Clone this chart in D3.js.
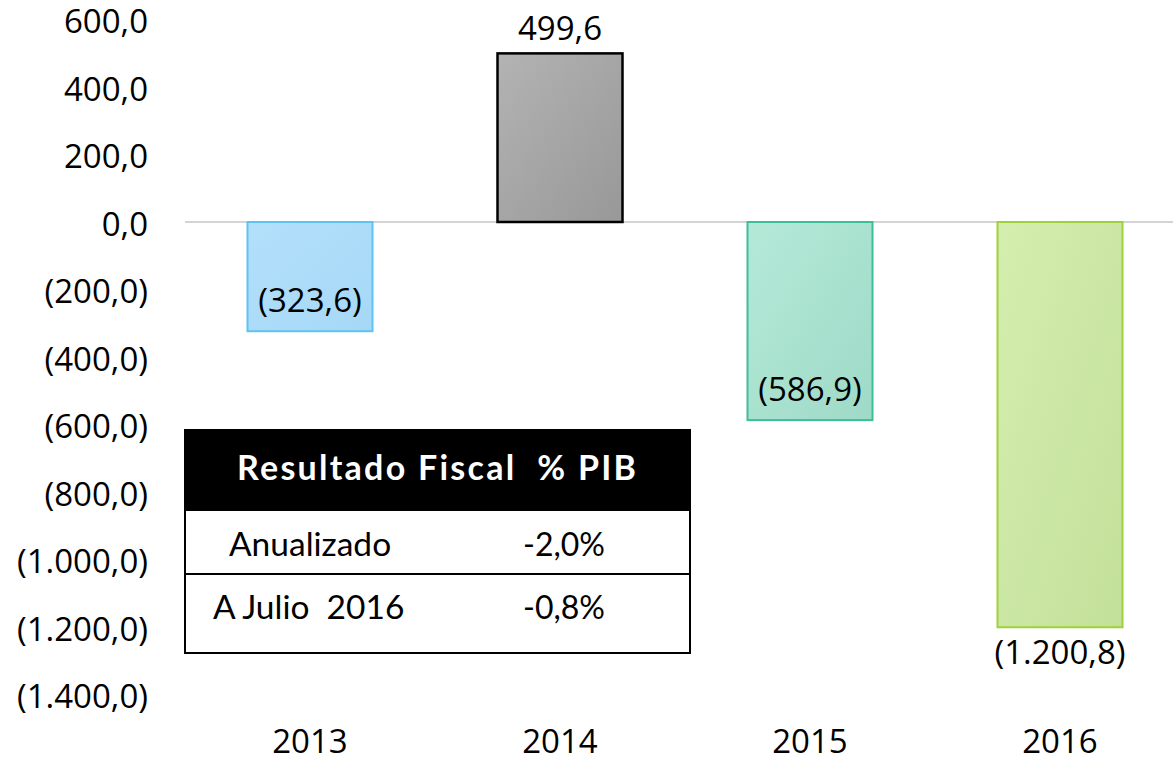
<!DOCTYPE html>
<html>
<head>
<meta charset="utf-8">
<script src="https://d3js.org/d3.v7.min.js"></script>
<style>
  body { margin: 0; background: #fff; }
  svg { display: block; }
  .tick-label { font-family: "Open Sans", sans-serif; font-size: 33px; fill: #000; }
  .tbl { font-family: Lato, "Open Sans", sans-serif; }
</style>
</head>
<body>
<svg id="chart" width="1173" height="757"></svg>
<script>
// data
const years = ["2013", "2014", "2015", "2016"];
const resultado = [-323.6, 499.6, -586.9, -1200.8];
const labelTexts = ["(323,6)", "499,6", "(586,9)", "(1.200,8)"];
const yTicks = [600, 400, 200, 0, -200, -400, -600, -800, -1000, -1200, -1400];
const tableHeader = ["Resultado Fiscal  % PIB"];
const tableRows = ["Anualizado", "A Julio  2016"];
const tableValues = ["-2,0%", "-0,8%"];

const fills = [["#b3e0fb", "#a6d8f6"], ["#b3b3b3", "#989898"], ["#b4e9d8", "#9fdac7"], ["#d4eeaf", "#c3e09a"]];
const strokes = ["#5cc3f3", "#000000", "#3cbf99", "#9fd13a"];

const svg = d3.select("#chart");
const W = 1173, H = 757;

const x = d3.scaleBand().domain(years).range([185, 1185]).paddingInner(0.5).paddingOuter(0.25);
const y = d3.scaleLinear().domain([-1400, 600]).range([694.5, 19.5]);

// gradients
const defs = svg.append("defs");
fills.forEach((f, i) => {
  const g = defs.append("linearGradient").attr("id", "g" + i)
    .attr("x1", "0%").attr("y1", "0%").attr("x2", "100%").attr("y2", "100%");
  g.append("stop").attr("offset", "0%").attr("stop-color", f[0]);
  g.append("stop").attr("offset", "100%").attr("stop-color", f[1]);
});

// y labels
svg.append("g").selectAll("text").data(yTicks).join("text")
  .attr("class", "tick-label")
  .attr("x", 148)
  .attr("y", d => y(d) + 2)
  .attr("dy", "0.35em")
  .attr("text-anchor", "end")
  .text(d => {
    const s = d3.format(",.1f")(Math.abs(d)).replace(/,/g, "#").replace(".", ",").replace(/#/g, ".");
    return d < 0 ? "(" + s + ")" : s;
  });

// zero line
svg.append("line")
  .attr("x1", 185).attr("x2", W)
  .attr("y1", y(0)).attr("y2", y(0))
  .attr("stroke", "#d4d4d4").attr("stroke-width", 2);

// bars
svg.append("g").selectAll("rect").data(resultado).join("rect")
  .attr("x", (d, i) => x(years[i]))
  .attr("width", x.bandwidth())
  .attr("y", d => y(Math.max(0, d)))
  .attr("height", d => Math.abs(y(d) - y(0)))
  .attr("fill", (d, i) => "url(#g" + i + ")")
  .attr("stroke", (d, i) => strokes[i])
  .attr("stroke-width", (d, i) => i === 1 ? 2.5 : 2);

// value labels
svg.append("g").selectAll("text").data(resultado).join("text")
  .attr("class", "tick-label")
  .attr("x", (d, i) => x(years[i]) + x.bandwidth() / 2)
  .attr("y", (d, i) => {
    if (d > 0) return y(d) - 13;
    if (i === 3) return y(d) + 37;
    return y(d) - 19;
  })
  .attr("text-anchor", "middle")
  .text((d, i) => labelTexts[i]);

// category labels
svg.append("g").selectAll("text").data(years).join("text")
  .attr("class", "tick-label")
  .attr("x", d => x(d) + x.bandwidth() / 2)
  .attr("y", 753)
  .attr("text-anchor", "middle")
  .text(d => d);

// table
const tb = { x0: 185, x1: 690, top: 430, head: 511, mid: 574, bottom: 653 };
const t = svg.append("g").attr("class", "tbl");
t.append("rect").attr("x", tb.x0).attr("y", tb.top).attr("width", tb.x1 - tb.x0).attr("height", tb.head - tb.top).attr("fill", "#000");
t.append("rect").attr("x", tb.x0).attr("y", tb.top).attr("width", tb.x1 - tb.x0).attr("height", tb.bottom - tb.top)
  .attr("fill", "none").attr("stroke", "#000").attr("stroke-width", 2);
t.append("line").attr("x1", tb.x0).attr("x2", tb.x1).attr("y1", tb.mid).attr("y2", tb.mid).attr("stroke", "#000").attr("stroke-width", 2);

t.append("text").attr("x", 237).attr("y", 480)
  .attr("fill", "#fff").attr("font-weight", "bold").attr("font-size", 34)
  .attr("textLength", 399).attr("lengthAdjust", "spacing")
  .style("white-space", "pre")
  .text(tableHeader[0]);

const rowY = [556, 619];
const rowX = [229, 213];
tableRows.forEach((r, i) => {
  t.append("text").attr("x", rowX[i]).attr("y", rowY[i]).attr("font-size", 33.5)
    .style("white-space", "pre").text(r);
  t.append("text").attr("x", 523).attr("y", rowY[i]).attr("font-size", 32).text(tableValues[i]);
});
</script>
</body>
</html>
